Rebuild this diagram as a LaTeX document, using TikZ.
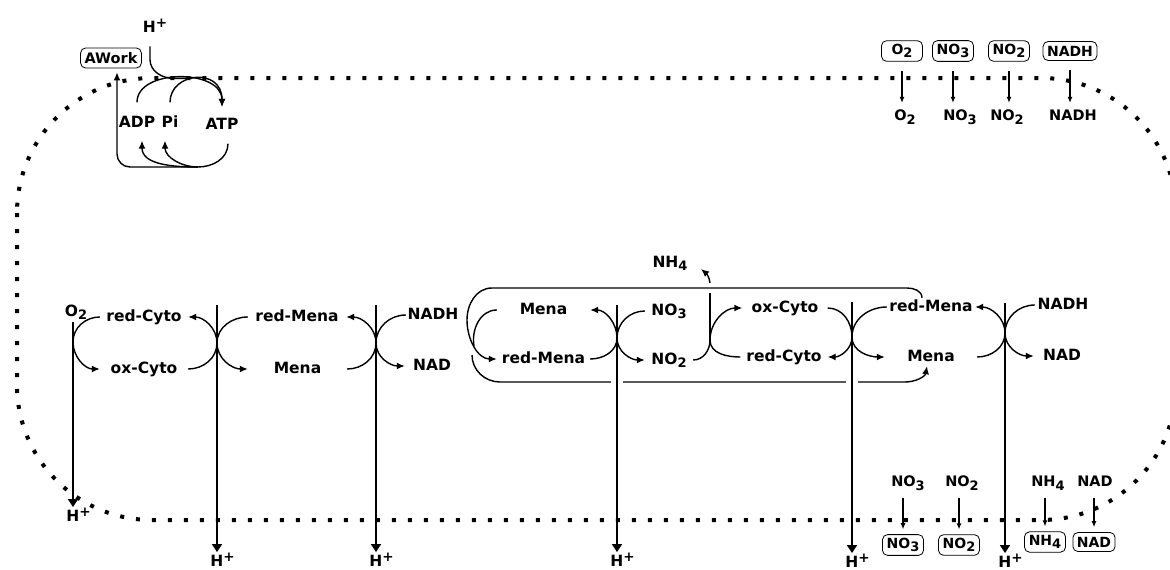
\documentclass[tikz,border=0pt]{standalone}
\usepackage{fontspec}
\setmainfont{DejaVu Sans}
\usepackage{tikz}
\usetikzlibrary{arrows.meta,positioning,calc}
\newcommand{\sbs}[1]{\raisebox{-3.5pt}{\fontsize{13}{12}\selectfont #1}}
\newcommand{\Hp}{H\raisebox{5pt}{\fontsize{13.5}{12}\selectfont +}}

\begin{document}
\begin{tikzpicture}[x=1pt, y=1pt,
    lbl/.style={font=\bfseries\fontsize{15.5}{18}\selectfont, inner xsep=0pt, inner ysep=2pt, text height=11pt, text depth=3pt},
    hlbl/.style={font=\bfseries\fontsize{15.5}{18}\selectfont, inner sep=1pt},
    tlbl/.style={font=\bfseries\fontsize{14.5}{16}\selectfont, inner sep=2pt, text height=10pt, text depth=3pt},
    mol/.style={draw, rounded corners=5pt, line width=0.8pt, inner xsep=4pt, minimum width=41pt, minimum height=19pt, font=\bfseries\fontsize{14}{16}\selectfont},
    flow/.style={line width=1.4pt},
    tip/.style={flow, -{Latex[length=8pt,width=7pt]}},
    pump/.style={line width=1.6pt, -{Triangle[length=8pt,width=10pt]}},
    feed/.style={line width=1.1pt, -{Latex[length=6pt,width=5pt]}}]

    \useasboundingbox (0,0) rectangle (1170,-570);
    \clip (0,0) rectangle (1170,-570);

    % Membrane
    \draw[line width=4pt, dash pattern=on 4pt off 12pt, rounded corners=135pt] (17,-78) rectangle (1176,-520);

    % ATP synthase
    \node[hlbl] (htop) at (155,-26) {\Hp};
    \node[mol, minimum height=20pt, font=\bfseries\fontsize{14.5}{17}\selectfont] (awork) at (111,-58) {AWork};
    \node[lbl] (adp) at (137,-123.5) {ADP};
    \node[lbl] (pi) at (170,-123.5) {Pi};
    \node[lbl] (atp) at (222,-125.5) {ATP};
    \coordinate (atpbase) at (198,-167);

    \draw[flow] ([xshift=-5pt,yshift=-12.5pt]htop.south) -- ++(0,-13) to[out=-90,in=180] ++(24,-19) -- ++(18,0);
    \draw[tip] ([yshift=12pt]adp.north) .. controls +(0,34) and +(0,38) .. ([yshift=9.5pt]atp.north);
    \draw[tip] ([yshift=12pt]pi.north) .. controls +(0,30) and +(0,40) .. ([yshift=9.5pt]atp.north);
    \draw[tip] ([xshift=6pt,yshift=-9pt]atp.south) to[out=-90,in=0] (atpbase) -- (130,-167)
        to[out=180,in=-90] (117,-154) -- ([xshift=6pt,yshift=-4pt]awork.south);
    \draw[tip] (atpbase) to[out=180,in=-90] ([xshift=5pt,yshift=-8pt]adp.south);
    \draw[tip] (atpbase) to[out=180,in=-90] ([xshift=-5pt,yshift=-8pt]pi.south);

    % Uptake (top right)
    \foreach \m/\xb/\xl/\txt in {o2/902/905/{O\sbs{2}}, no3/953/960/{NO\sbs{3}}, no2/1009/1007/{NO\sbs{2}}, nadh/1070/1073/{NADH}} {
        \node[mol] (\m-in) at (\xb,-51) {\txt};
        \node[tlbl] (\m-cyt) at (\xl,-117) {\txt};
        \draw[feed, shorten <=9.5pt, shorten >=5.5pt] (\m-in.south) -- (\m-in.south |- \m-cyt.north);
    }

    % Export (bottom right)
    \foreach \m/\xl/\xb/\yb/\txt in {no3/908/903/545/{NO\sbs{3}}, no2/962/959/545/{NO\sbs{2}}, nh4/1048/1045/542/{NH\sbs{4}}, nad/1095/1094/542/{NAD}} {
        \node[tlbl] (\m-lbl) at (\xl,-483) {\txt};
        \node[mol] (\m-out) at (\xb,-\yb) {\txt};
        \draw[feed, shorten <=6pt, shorten >=5pt] (\m-out.north |- \m-lbl.south) -- (\m-out.north);
    }

    % Aerobic chain
    \node[lbl] (o2) at (76,-312) {O\sbs{2}};
    \node[lbl, minimum width=88pt] (rcyto1) at (144,-317) {red-Cyto};
    \node[lbl, minimum width=88pt] (ocyto1) at (144,-369) {ox-Cyto};
    \node[lbl, minimum width=98pt] (rmena1) at (297,-317) {red-Mena};
    \node[lbl, minimum width=99pt] (mena1) at (297.5,-369) {Mena};
    \node[lbl, minimum width=54pt] (nadh1) at (433,-315) {NADH};
    \node[lbl, minimum width=54pt] (nad1) at (432,-366) {NAD};
    \coordinate (j1) at (73,-342);
    \coordinate (j2) at (217,-343);
    \coordinate (j3) at (376,-343);

    % Nitrate / nitrite chain
    \node[lbl] (nh4) at (670,-263) {NH\sbs{4}};
    \node[lbl, minimum width=93pt] (mena2) at (543.5,-310) {Mena};
    \node[lbl, minimum width=93pt] (rmena2) at (543.5,-359) {red-Mena};
    \node[lbl, minimum width=48pt] (no3) at (669,-311) {NO\sbs{3}};
    \node[lbl, minimum width=48pt] (no2) at (669,-360) {NO\sbs{2}};
    \node[lbl, minimum width=85pt] (ocyto2) at (785,-308) {ox-Cyto};
    \node[lbl, minimum width=87pt] (rcyto2) at (784,-357) {red-Cyto};
    \node[lbl, minimum width=88pt] (rmena3) at (931,-307) {red-Mena};
    \node[lbl, minimum width=92pt] (mena3) at (931,-357) {Mena};
    \node[lbl, minimum width=56pt] (nadh2) at (1063,-305) {NADH};
    \node[lbl, minimum width=56pt] (nad2) at (1062,-356) {NAD};
    \coordinate (j4) at (617,-338);
    \coordinate (j5) at (710,-340);
    \coordinate (j6) at (852,-337);
    \coordinate (j7) at (1005,-333);
    \coordinate (mrg) at (474,-346);
    \coordinate (lowst) at (472,-355);
    \coordinate (nhbase) at (710,-283);
    \coordinate (nhtip) at (701,-269);

    % Mena loops
    \draw[tip] ([xshift=-9pt]rmena3.north) to[out=90,in=0] (907,-288) -- (492,-288)
        to[out=180,in=90] (467,-320) to[out=-90,in=180] (rmena2.west);
    \draw[flow] (mena2.west) to[out=180,in=100] (mrg);
    \draw[tip] (lowst) to[out=-90,in=180] (500,-382) -- (905,-382) to[out=0,in=-100] ([xshift=-4pt]mena3.south);
    \foreach \gx in {617,852} \fill[white] (\gx-6,-377) rectangle (\gx+6,-387);

    % Proton pumps
    \node[hlbl] (hp1) at (78.5,-515) {\Hp};
    \node[hlbl] (hp2) at (222.5,-560) {\Hp};
    \node[hlbl] (hp3) at (381.5,-560) {\Hp};
    \node[hlbl] (hp4) at (622.5,-560) {\Hp};
    \node[hlbl] (hp5) at (857.5,-561) {\Hp};
    \node[hlbl] (hp6) at (1010.5,-561) {\Hp};
    \coordinate (t1) at (73,-322);
    \coordinate (t2) at (217,-305);
    \coordinate (t3) at (376,-305);
    \coordinate (t4) at (617,-305);
    \coordinate (t5) at (852,-302);
    \coordinate (t6) at (1005,-303);
    \coordinate (t7) at (710,-293);
    \foreach \t/\h in {t1/hp1, t2/hp2, t3/hp3, t4/hp4, t5/hp5, t6/hp6}
        \draw[pump] (\t) -- (\t |- \h.north);
    \draw[line width=1.6pt] (t7) -- (j5);
    \draw[tip] (nhbase) to[out=95,in=-40] (nhtip);

    % Redox half reactions
    \draw[tip] (rcyto1.west) to[out=180,in=90] (j1) to[out=-90,in=180] (ocyto1.west);
    \draw[tip] (ocyto1.east) to[out=0,in=-90] (j2) to[out=90,in=0] (rcyto1.east);
    \draw[tip] (rmena1.west) to[out=180,in=90] (j2) to[out=-90,in=180] (mena1.west);
    \draw[tip] (mena1.east) to[out=0,in=-90] (j3) to[out=90,in=0] (rmena1.east);
    \draw[tip] (nadh1.west) to[out=180,in=90] (j3) to[out=-90,in=180] (nad1.west);

    \draw[tip] (rmena2.east) to[out=0,in=-90] (j4) to[out=90,in=0] (mena2.east);
    \draw[tip] (no3.west) to[out=180,in=90] (j4) to[out=-90,in=180] (no2.west);
    \draw[flow] (no2.east) to[out=0,in=-90] (j5);
    \draw[tip] (rcyto2.west) to[out=180,in=-90] (j5) to[out=90,in=180] (ocyto2.west);
    \draw[tip] (ocyto2.east) to[out=0,in=90] (j6) to[out=-90,in=0] (rcyto2.east);
    \draw[tip] (rmena3.west) to[out=180,in=90] (j6) to[out=-90,in=180] (mena3.west);
    \draw[tip] (mena3.east) to[out=0,in=-90] (j7) to[out=90,in=0] (rmena3.east);
    \draw[tip] (nadh2.west) to[out=180,in=90] (j7) to[out=-90,in=180] (nad2.west);

\end{tikzpicture}
\end{document}
